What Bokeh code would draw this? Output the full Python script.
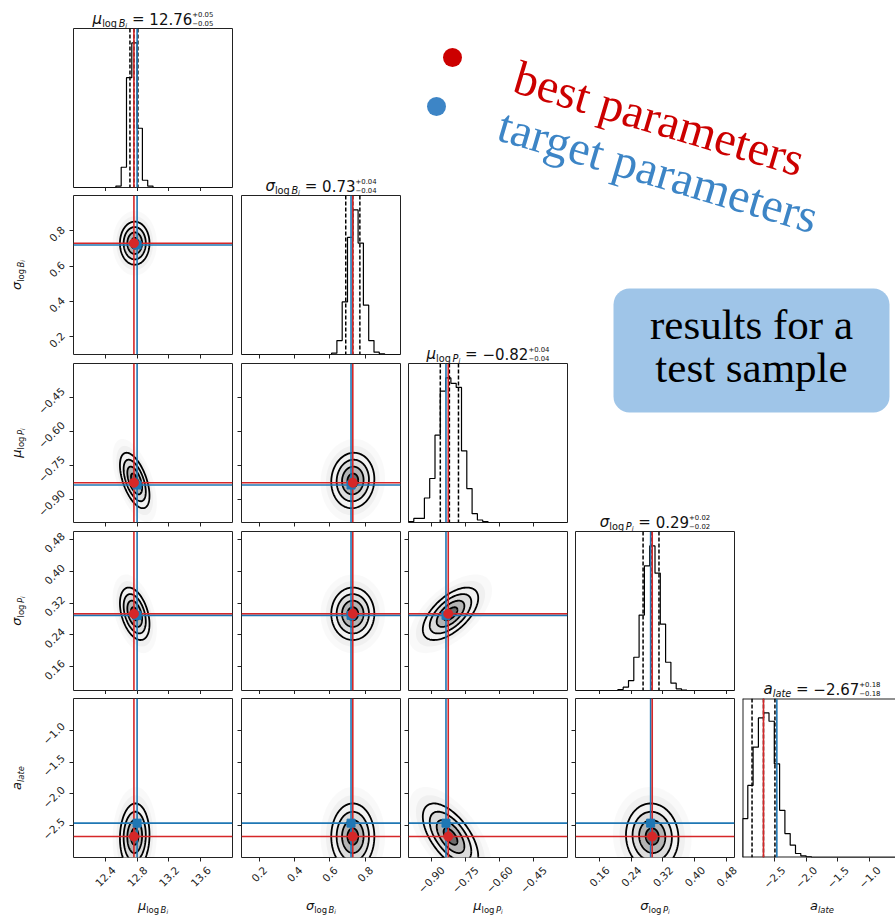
import numpy as np
from bokeh.plotting import figure
from bokeh.layouts import column
from bokeh.models import GridBox, FixedTicker, Range1d, Span, BoxAnnotation, Label
from bokeh.core.properties import value
from bokeh.embed import file_html
from bokeh.resources import INLINE

# ---------------------------------------------------------------- data
param_symbols = ["μ", "σ", "μ", "σ", "a"]
param_subs = [("log", "B", "i"), ("log", "B", "i"), ("log", "P", "i"), ("log", "P", "i"), ("late", None, None)]
axis_limits = [(12.0, 14.0), (0.1, 1.0), (-1.0, -0.3), (0.1, 0.5), (-3.0, -0.5)]
tick_values = [
    [12.4, 12.8, 13.2, 13.6],
    [0.2, 0.4, 0.6, 0.8],
    [-0.90, -0.75, -0.60, -0.45],
    [0.16, 0.24, 0.32, 0.40, 0.48],
    [-2.5, -2.0, -1.5, -1.0],
]
tick_labels = [
    ["12.4", "12.8", "13.2", "13.6"],
    ["0.2", "0.4", "0.6", "0.8"],
    ["−0.90", "−0.75", "−0.60", "−0.45"],
    ["0.16", "0.24", "0.32", "0.40", "0.48"],
    ["−2.5", "−2.0", "−1.5", "−1.0"],
]

# posterior summaries: median and 16/84 percentile offsets
medians = [12.76, 0.73, -0.82, 0.29, -2.67]
err_lo = [0.05, 0.04, 0.04, 0.02, 0.18]
err_hi = [0.05, 0.04, 0.04, 0.02, 0.18]

best_params = [12.76, 0.73, -0.825, 0.293, -2.67]
target_params = [12.80, 0.72, -0.835, 0.289, -2.46]

# marginal histograms (30 bins spanning the axis limits)
hist_mu_logB = [0, 0, 0, 0, 0, 0, 0, 0, 1, 14, 76, 100, 41, 5, 1,
                0, 0, 0, 0, 0, 0, 0, 0, 0, 0, 0, 0, 0, 0, 0]
hist_sigma_logB = [0, 0, 0, 0, 0, 0, 0, 0, 0, 0, 0, 0, 0, 0, 0, 0, 0,
                   4, 42, 159, 354, 437, 337, 149, 42, 7, 2, 0, 0, 0]
hist_mu_logP = [3, 13, 13, 78, 140, 278, 418, 460, 443, 430, 228, 108, 28, 8, 3,
                0, 0, 0, 0, 0, 0, 0, 0, 0, 0, 0, 0, 0, 0, 0]
hist_sigma_logP = [0, 0, 0, 0, 0, 0, 0, 0, 3, 10, 30, 100, 227, 375, 435, 353,
                   200, 85, 22, 5, 1, 0, 0, 0, 0, 0, 0, 0, 0, 0]
hist_a_late = [117, 217, 332, 420, 435, 410, 282, 142, 72, 37, 12, 5, 2,
               0, 0, 0, 0, 0, 0, 0, 0, 0, 0, 0, 0, 0, 0, 0, 0, 0]
histograms = [hist_mu_logB, hist_sigma_logB, hist_mu_logP, hist_sigma_logP, hist_a_late]

# joint posterior shape: centre, spread and pairwise correlation
post_center = [12.77, 0.73, -0.815, 0.293, -2.67]
post_spread = [0.093, 0.061, 0.061, 0.033, 0.26]
post_corr = {(1, 0): 0.0, (2, 0): -0.55, (3, 0): -0.40, (4, 0): 0.05,
             (2, 1): 0.05, (3, 1): 0.0, (4, 1): 0.0,
             (3, 2): 0.60, (4, 2): -0.60, (4, 3): -0.05}
contour_sigmas = [0.5, 1.0, 1.5, 2.0]

legend_texts = ["best parameters", "target parameters"]
note_lines = ["results for a", "test sample"]

# ---------------------------------------------------------------- style
RED = "#d62728"
BLUE = "#1f77b4"
INK = "#222222"
N = 5
TICK_FS = 10.5
BASE_FIX = 0.3   # alphabetic-baseline correction, in em

# grid geometry (pixels)
col_w = [236, 168, 167, 167, 157]
row_h = [191, 168, 168, 167, 223]
pad_left = [73, 5, 4, 4, 4]
pad_top = [28, 4, 4, 4, 4]
FRAME = 159
frame_w = [min(FRAME, col_w[c] - pad_left[c]) for c in range(N)]
pad_right = [col_w[c] - pad_left[c] - frame_w[c] for c in range(N)]
pad_bottom = [row_h[r] - pad_top[r] - FRAME for r in range(N)]
PAGE_W, PAGE_H = sum(col_w), sum(row_h)
col_x0 = np.cumsum([0] + col_w[:-1])
row_y0 = np.cumsum([0] + row_h[:-1])
frame_left_x = [col_x0[c] + pad_left[c] for c in range(N)]
frame_top_y = [row_y0[r] + pad_top[r] for r in range(N)]
frame_cx = [frame_left_x[c] + FRAME / 2 for c in range(N)]
frame_cy = [frame_top_y[r] + FRAME / 2 for r in range(N)]

# DejaVu Sans advance widths (em)
ADV = {'l': .278, 'o': .612, 'g': .635, 'B': .686, 'P': .603, 'i': .278, 'a': .613,
       't': .392, 'e': .615, '.': .318, ' ': .318, '=': .838, '+': .838, '−': .838,
       'μ': .636, 'σ': .634}
for d in "0123456789":
    ADV[d] = .636


def tw(s, size):
    return sum(ADV.get(ch, .6) for ch in s) * size


def x_limits(c):
    lo, hi = axis_limits[c]
    return lo, lo + (hi - lo) * frame_w[c] / FRAME


def style_axis(ax, k):
    ax.ticker = FixedTicker(ticks=tick_values[k])
    ax.major_label_overrides = {v: "" for v in tick_values[k]}
    ax.major_label_text_font_size = "0px"
    ax.major_label_standoff = 0
    ax.axis_line_color = None
    ax.major_tick_out = 4
    ax.major_tick_in = 0
    ax.minor_tick_out = 0
    ax.minor_tick_in = 0
    ax.major_tick_line_color = INK
    ax.axis_label = None


tt = np.linspace(0.0, 2.0 * np.pi, 121)


def ellipse_outline(i_x, i_y, n):
    """n-sigma contour of the joint posterior for parameters (i_x, i_y)."""
    cx, cy = post_center[i_x], post_center[i_y]
    sx, sy = post_spread[i_x], post_spread[i_y]
    rho = post_corr[(i_y, i_x)]
    xs = cx + n * sx * np.cos(tt)
    ys = cy + n * sy * (rho * np.cos(tt) + np.sqrt(1 - rho ** 2) * np.sin(tt))
    return xs, ys


def make_panel(r, c):
    diag = r == c
    if diag:
        yr = Range1d(0, 1.1 * max(histograms[c]))
    else:
        yr = Range1d(*axis_limits[r])
    xr = Range1d(*x_limits(c))
    p = figure(width=col_w[c], height=row_h[r], x_range=xr, y_range=yr,
               output_backend="svg", toolbar_location=None,
               x_axis_location="below", y_axis_location=None if diag else "left",
               min_border_left=pad_left[c], min_border_right=pad_right[c],
               min_border_top=pad_top[r], min_border_bottom=pad_bottom[r])
    p.grid.grid_line_color = None
    p.outline_line_color = INK
    p.outline_line_width = 1
    p.background_fill_color = "white"
    p.border_fill_color = "white"
    if pad_right[c] == 0:
        # panel runs off the page: frame only on the three visible sides
        p.outline_line_color = None
        x0, x1, y0, y1 = xr.start, xr.end, yr.start, yr.end
        p.segment(x0=[x0, x0, x0], y0=[y0, y1, y0], x1=[x0, x1, x1], y1=[y1, y1, y0],
                  line_color=INK, line_width=2)
    style_axis(p.xaxis[0], c)
    if not diag:
        style_axis(p.yaxis[0], r)

    if diag:
        counts = np.asarray(histograms[c], dtype=float)
        lo, hi = axis_limits[c]
        edges = np.linspace(lo, hi, len(counts) + 1)
        xs = np.repeat(edges, 2)
        ys = np.concatenate([[0.0], np.repeat(counts, 2), [0.0]])
        p.line(xs, ys, line_color="black", line_width=1.2)
        m = medians[c]
        for q in (m - err_lo[c], m, m + err_hi[c]):
            p.add_layout(Span(location=q, dimension="height", line_color="black",
                              line_width=1.5, line_dash="4 2"))
        p.add_layout(Span(location=target_params[c], dimension="height",
                          line_color=BLUE, line_width=1.6))
        p.add_layout(Span(location=best_params[c], dimension="height",
                          line_color=RED, line_width=1.6))
    else:
        # faint cloud of samples beyond the outer contour
        for n, a in ((3.0, 0.025), (2.5, 0.035)):
            ex, ey = ellipse_outline(c, r, n)
            p.patch(ex, ey, fill_color="black", fill_alpha=a, line_color=None)
        ex, ey = ellipse_outline(c, r, 2.0)
        p.patch(ex, ey, fill_color="white", fill_alpha=1.0, line_color=None)
        for n, a in zip(contour_sigmas[::-1], (0.05, 0.09, 0.18, 0.40)):
            ex, ey = ellipse_outline(c, r, n)
            p.patch(ex, ey, fill_color="black", fill_alpha=a, line_color=None)
        for n in contour_sigmas:
            ex, ey = ellipse_outline(c, r, n)
            p.line(ex, ey, line_color="black", line_width=1.8)
        for dim, k in (("height", c), ("width", r)):
            p.add_layout(Span(location=target_params[k], dimension=dim,
                              line_color=BLUE, line_width=1.6))
            p.add_layout(Span(location=best_params[k], dimension=dim,
                              line_color=RED, line_width=1.6))
        p.scatter([target_params[c]], [target_params[r]], marker="square", size=8,
                  fill_color=BLUE, line_color=BLUE, level="overlay")
        p.scatter([best_params[c]], [best_params[r]], marker="circle", size=9,
                  fill_color=RED, line_color=RED, level="overlay")
    return p


children = []
for r in range(N):
    for c in range(r + 1):
        children.append((make_panel(r, c), r, c))

# ---------------------------------------------------------------- page-level text layer
# data units of the default ranges are page pixels (y up); one extra range per
# column / row reproduces each panel's own data scale for the tick labels
ov = figure(width=PAGE_W, height=PAGE_H,
            x_range=Range1d(0, PAGE_W), y_range=Range1d(0, PAGE_H),
            output_backend="svg", toolbar_location=None,
            x_axis_location=None, y_axis_location=None,
            min_border_left=0, min_border_right=0, min_border_top=0, min_border_bottom=0)
ov.grid.grid_line_color = None
ov.outline_line_color = None
ov.background_fill_color = None
ov.border_fill_color = None

for k in range(N):
    lo, hi = axis_limits[k]
    u = (hi - lo) / FRAME
    x0 = lo - frame_left_x[k] * u
    ov.extra_x_ranges[f"col{k}"] = Range1d(x0, x0 + PAGE_W * u)
    fb = PAGE_H - (frame_top_y[k] + FRAME)
    y0 = lo - fb * u
    ov.extra_y_ranges[f"row{k}"] = Range1d(y0, y0 + PAGE_H * u)


def tick_offset(s):
    # distance from the frame edge to the centre of a 45-degree label
    return 4 + 4 + 0.707 * (tw(s, TICK_FS) + 0.73 * TICK_FS) / 2


tick_kw = dict(angle=np.pi / 4, text_align="center", text_baseline="middle",
               text_font="DejaVu Sans", text_font_size=f"{TICK_FS}px", text_color=INK)
bottom_y = PAGE_H - (frame_top_y[N - 1] + FRAME)
for c in range(N):
    for v, s in zip(tick_values[c], tick_labels[c]):
        ov.add_layout(Label(x=v, x_range_name=f"col{c}", y=bottom_y,
                            y_offset=-tick_offset(s), text=s, **tick_kw))
for r in range(1, N):
    for v, s in zip(tick_values[r], tick_labels[r]):
        ov.add_layout(Label(x=frame_left_x[0], y=v, y_range_name=f"row{r}",
                            x_offset=-tick_offset(s), y_offset=-3, text=s, **tick_kw))


def symbol_runs(k, F):
    s = 0.65 * F
    runs = [(param_symbols[k], F, "italic", 0.0, tw(param_symbols[k], F))]
    sub, letter, idx = param_subs[k]
    if letter is None:
        runs.append((sub, s, "italic", 0.22 * F, tw(sub, s)))
    else:
        runs.append((sub, s, "normal", 0.22 * F, tw(sub, s) + 0.17 * s))
        runs.append((letter, s, "italic", 0.22 * F, tw(letter, s)))
        runs.append((idx, 0.45 * F, "italic", 0.36 * F, tw(idx, 0.45 * F)))
    return runs


def place(runs, cx, cy, theta):
    """Lay runs along a baseline centred on (cx, cy) (page pixels, y down)."""
    total = sum(rn[4] for rn in runs)
    ax_, ay_ = np.cos(theta), -np.sin(theta)
    dx_, dy_ = np.sin(theta), np.cos(theta)
    pen = -total / 2
    for text, size, style, shift, adv in runs:
        if text:
            sh = shift - BASE_FIX * size
            px = cx + pen * ax_ + sh * dx_
            py = cy + pen * ay_ + sh * dy_
            ov.add_layout(Label(x=px, y=PAGE_H - py, text=text, angle=theta,
                                text_font="DejaVu Sans", text_font_size=f"{size:.2f}px",
                                text_font_style=style, text_align="left",
                                text_baseline="alphabetic", text_color="#111111"))
        pen += adv


TF = 15.0
for k in range(N):
    runs = symbol_runs(k, TF)
    num = f"{medians[k]:.2f}".replace("-", "−")
    gap = tw(" ", TF)
    runs.append(("", TF, "normal", 0.0, gap))
    runs.append(("=", TF, "normal", 0.0, tw("=", TF) + gap))
    runs.append((num, TF, "normal", 0.0, tw(num, TF)))
    s = 0.46 * TF
    sup = f"+{err_hi[k]:.2f}"
    sub = f"−{err_lo[k]:.2f}"
    runs.append((sup, s, "normal", -0.48 * TF, 0.0))
    runs.append((sub, s, "normal", 0.12 * TF, max(tw(sup, s), tw(sub, s))))
    place(runs, frame_cx[k], frame_top_y[k] - 5.5, 0.0)

LF = 13.0
for k in range(N):
    place(symbol_runs(k, LF), frame_cx[k], PAGE_H - 8, 0.0)
for k in range(1, N):
    place(symbol_runs(k, LF), 20.0, frame_cy[k], np.pi / 2)


def baseline_anchor(x, y, theta, size):
    """Anchor that puts an alphabetic baseline at page point (x, y)."""
    d = BASE_FIX * size
    return x - d * np.sin(theta), PAGE_H - (y - d * np.cos(theta))


# legend markers and slanted captions
ov.scatter([452], [PAGE_H - 57], size=19, marker="circle", fill_color="#cc0000", line_color=None)
ov.scatter([436], [PAGE_H - 106], size=19, marker="circle", fill_color="#3d85c6", line_color=None)
slant = -np.deg2rad(16.5)
LEG_FS = 48
for (lx, ly), txt, col in (((511, 89), legend_texts[0], "#cc0000"),
                           ((495, 137), legend_texts[1], "#3d85c6")):
    ax_, ay_ = baseline_anchor(lx, ly, slant, LEG_FS)
    ov.text(x=[ax_], y=[ay_], text=[txt], angle=slant,
            text_font=value("Liberation Serif"), text_font_size=f"{LEG_FS}px",
            text_color=col, text_align="left", text_baseline="alphabetic")

# rounded note box
ov.add_layout(BoxAnnotation(left=613, right=889, top=PAGE_H - 288, bottom=PAGE_H - 412,
                            fill_color="#9fc5e8", fill_alpha=1.0, line_color=None,
                            border_radius=16, level="underlay"))
NOTE_FS = 43
note_xy = [baseline_anchor(751, y, 0.0, NOTE_FS) for y in (337, 380)]
ov.text(x=[q[0] for q in note_xy], y=[q[1] for q in note_xy], text=note_lines,
        text_font=value("Liberation Serif"), text_font_size=f"{NOTE_FS}px",
        text_color="black", text_align="center", text_baseline="alphabetic")

# wrapped so that the grid does not align its frame with the panels
children.append((column(ov), 0, 0, N, N))

grid = GridBox(children=children, spacing=0)
open("out.html", "w").write(file_html(grid, INLINE))
